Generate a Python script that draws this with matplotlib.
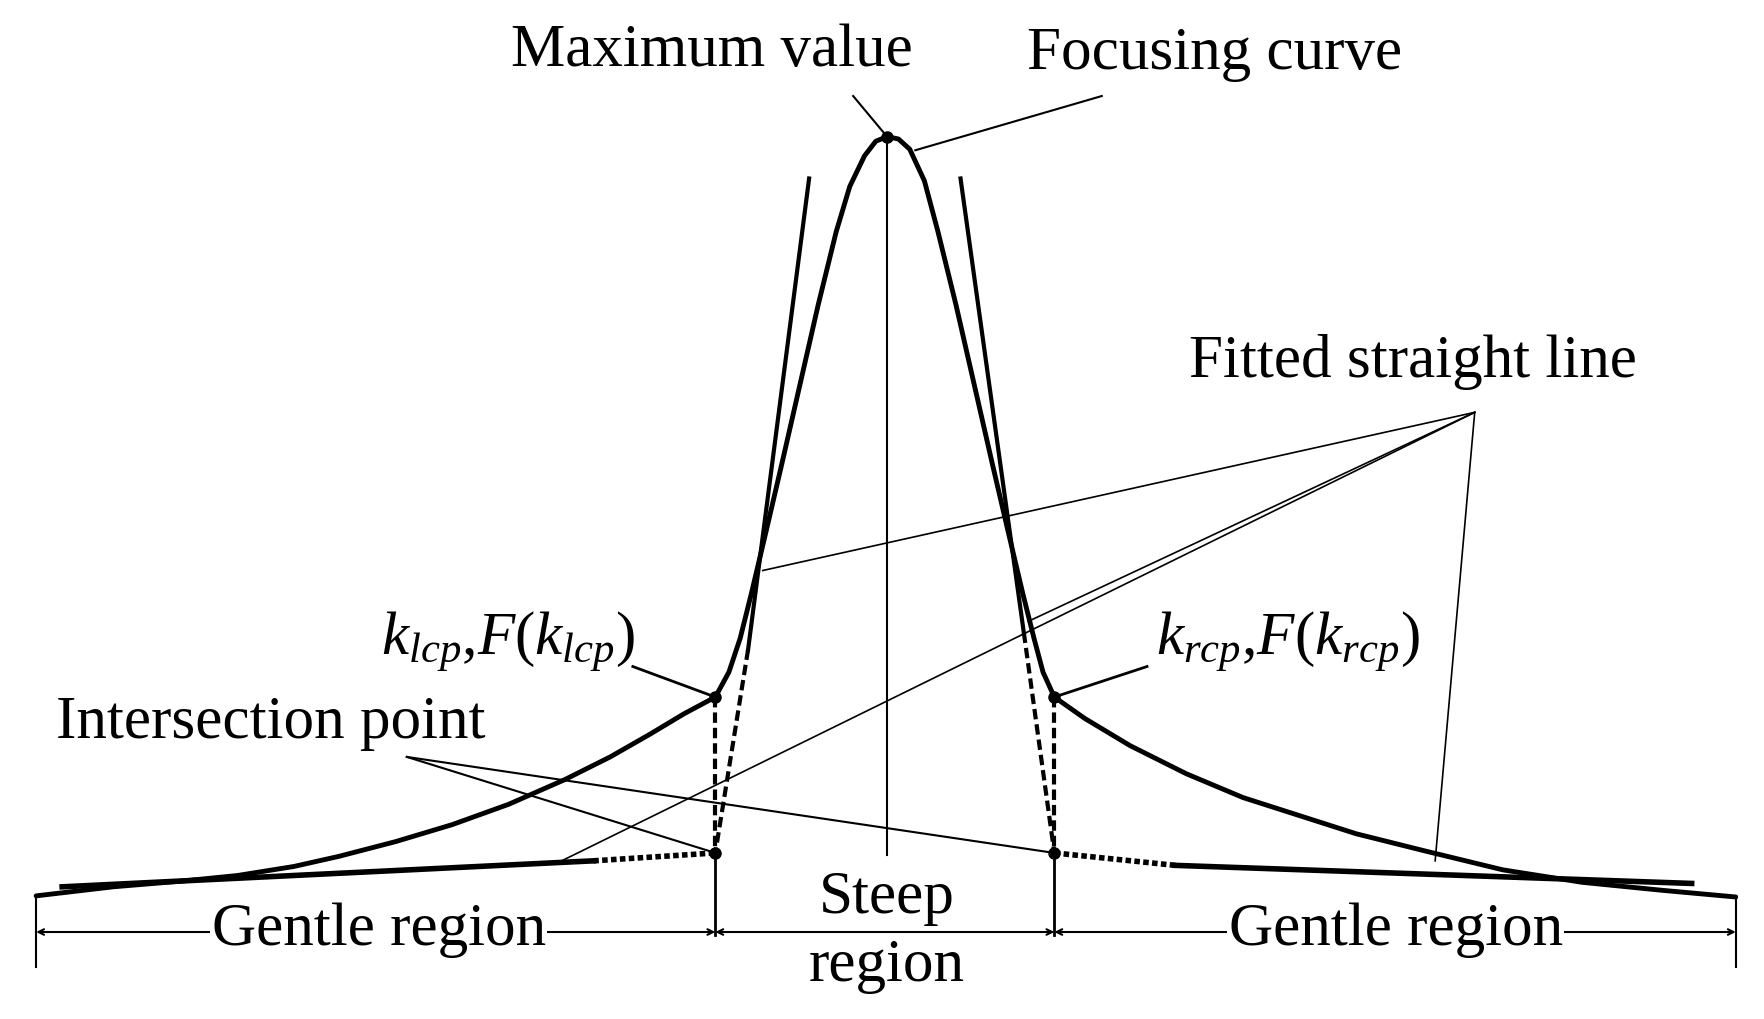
import numpy as np
import matplotlib.pyplot as plt
import matplotlib as mpl

mpl.rcParams['font.family'] = 'Liberation Serif'
mpl.rcParams['mathtext.fontset'] = 'custom'
mpl.rcParams['mathtext.rm'] = 'Liberation Serif'
mpl.rcParams['mathtext.it'] = 'Liberation Serif:italic'

# focusing curve (x, y in picture units, y down)
curve_x = [32, 100, 160, 210, 260, 300, 350, 400, 450, 500, 540, 575, 605, 633, 645, 655, 665,
           678, 692, 708, 724, 740, 752, 765, 775, 785,
           795, 805, 818, 830, 846, 862, 878, 892, 905, 915, 923, 933,
           960, 1000, 1050, 1100, 1150, 1200, 1260, 1330, 1400, 1470, 1536]
curve_y = [793, 785, 780, 775, 767, 758, 745, 730, 712, 690, 670, 650, 632, 617, 595, 565, 525,
           470, 410, 340, 270, 205, 165, 138, 125, 121,
           123, 132, 160, 205, 270, 340, 410, 470, 525, 565, 595, 617,
           636, 660, 685, 706, 722, 738, 753, 770, 781, 788, 794]

# fitted straight lines: (far end, end of solid part, intersection point)
gentle_l = [(55, 785), (525, 762), (633, 755)]
gentle_r = [(1497, 782), (1040, 766), (933, 755)]
steep_l = [(716, 158), (662, 575), (633, 755)]
steep_r = [(850, 158), (906, 560), (933, 755)]

peak = (785, 121)
k_points = [(633, 617), (933, 617)]
inter_points = [(633, 755), (933, 755)]
bounds = [32, 633, 933, 1536]

fig = plt.figure(figsize=(17.64, 10.19), dpi=100)
ax = fig.add_axes([0, 0, 1, 1])
ax.set_xlim(0, 1561)
ax.set_ylim(902, 0)
ax.axis('off')

ax.plot(curve_x, curve_y, color='k', lw=3.5, solid_capstyle='round', solid_joinstyle='round')

for ln in (gentle_l, gentle_r):
    (x0, y0), (x1, y1), (x2, y2) = ln
    ax.plot([x0, x1], [y0, y1], 'k', lw=4)
    ax.plot([x1, x2], [y1, y2], 'k', lw=4, ls=(0, (1, 0.6)))
for ln in (steep_l, steep_r):
    (x0, y0), (x1, y1), (x2, y2) = ln
    ax.plot([x0, x1], [y0, y1], 'k', lw=3)
    ax.plot([x1, x2], [y1, y2], 'k', lw=3, ls=(0, (2.5, 1.2)))
for (kx, ky), (ix, iy) in zip(k_points, inter_points):
    ax.plot([kx, ix], [ky, iy], 'k', lw=3, ls=(0, (2.5, 1.2)))

# markers
ax.plot([peak[0]] + [p[0] for p in k_points + inter_points],
        [peak[1]] + [p[1] for p in k_points + inter_points], 'ko', ms=8)

# centre line and region boundaries
ax.plot([peak[0], peak[0]], [peak[1], 757], 'k', lw=1.5)
for b in bounds[1:3]:
    ax.plot([b, b], [755, 828], 'k', lw=2)
for b in (bounds[0], bounds[3]):
    ax.plot([b, b], [793, 856], 'k', lw=1.5)
for a, b in zip(bounds[:-1], bounds[1:]):
    ax.annotate('', xy=(a, 825), xytext=(b, 825),
                arrowprops=dict(arrowstyle='<->', color='k', lw=1.5, shrinkA=0, shrinkB=0))

fs = 44
box = dict(facecolor='white', edgecolor='none', pad=1)
ax.text(335, 823, 'Gentle region', fontsize=fs, ha='center', va='center', bbox=box)
ax.text(1235, 823, 'Gentle region', fontsize=fs, ha='center', va='center', bbox=box)
ax.text(785, 795, 'Steep', fontsize=fs, ha='center', va='center', bbox=box)
ax.text(785, 855, 'region', fontsize=fs, ha='center', va='center')

ax.text(630, 45, 'Maximum value', fontsize=fs, ha='center', va='center')
ax.plot([755, 785], [85, 121], 'k', lw=1.5)
ax.text(1075, 48, 'Focusing curve', fontsize=fs, ha='center', va='center')
ax.plot([975, 810], [85, 133], 'k', lw=1.5)

ax.text(1250, 320, 'Fitted straight line', fontsize=fs, ha='center', va='center')
for tx, ty in [(675, 505), (910, 550), (497, 762), (1270, 762)]:
    ax.plot([1305, tx], [365, ty], 'k', lw=1.2)

ax.text(450, 568, r'$k_{lcp}$,$F$($k_{lcp}$)', fontsize=fs, ha='center', va='center')
ax.plot([560, 633], [590, 617], 'k', lw=2)
ax.text(1140, 568, r'$k_{rcp}$,$F$($k_{rcp}$)', fontsize=fs, ha='center', va='center')
ax.plot([1015, 933], [590, 617], 'k', lw=2)

ax.text(240, 640, 'Intersection point', fontsize=fs, ha='center', va='center')
for ix, iy in inter_points:
    ax.plot([360, ix], [670, iy], 'k', lw=1.5)

fig.savefig('out.png', dpi=100, facecolor='white')
